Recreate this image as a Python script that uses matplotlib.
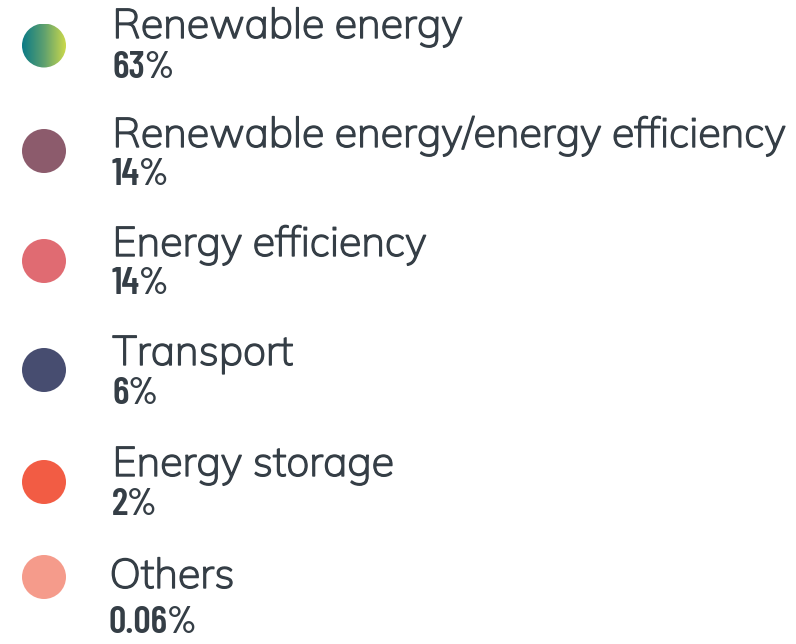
import matplotlib
matplotlib.use("Agg")
import matplotlib.pyplot as plt
import numpy as np
from matplotlib.patches import Circle
from matplotlib.colors import LinearSegmentedColormap
import matplotlib.patheffects as pe

categories = ["Renewable energy", "Renewable energy/energy efficiency",
              "Energy efficiency", "Transport", "Energy storage", "Others"]
shares = ["63%", "14%", "14%", "6%", "2%", "0.06%"]
colors = [None, "#8c5b6c", "#e06b72", "#474d70", "#f25c44", "#f59b8b"]
gradient_colors = ["#0a7a86", "#5ea06f", "#cbd94b"]

W, H = 796, 644
fig = plt.figure(figsize=(W / 100, H / 100), dpi=100)
ax = fig.add_axes([0, 0, 1, 1])
ax.set_xlim(0, W)
ax.set_ylim(H, 0)
ax.axis("off")

circle_y = [45.5, 151, 261, 370, 482, 577]
label_base = [38, 147, 256, 365, 476, 588]
pct_base = [78, 185, 294, 404, 515, 633]
text_x = [112, 112, 112, 112, 112, 109]
cx, r = 44, 22
text_color = "#353e46"

label_fs = 29.8
pct_fs = 27.5
thick = [pe.withStroke(linewidth=1.0, foreground=text_color)]

for i, (cat, sh) in enumerate(zip(categories, shares)):
    cy = circle_y[i]
    if colors[i] is None:
        cmap = LinearSegmentedColormap.from_list("g", gradient_colors)
        grad = np.linspace(0, 1, 256).reshape(1, -1)
        im = ax.imshow(grad, cmap=cmap, extent=[cx - r, cx + r, cy + r, cy - r],
                       aspect="auto", interpolation="bilinear", zorder=2)
        clip = Circle((cx, cy), r, transform=ax.transData, facecolor="none", edgecolor="none")
        ax.add_patch(clip)
        im.set_clip_path(clip)
    else:
        ax.add_patch(Circle((cx, cy), r, facecolor=colors[i], edgecolor="none", zorder=2))
    ax.text(text_x[i] + 0.5, label_base[i], cat, family=["Mulish", "Lato", "DejaVu Sans"],
            fontsize=label_fs, color=text_color, va="baseline", ha="left",
            path_effects=thick)
    ax.text(text_x[i], pct_base[i], sh, family=["Barlow Condensed", "DejaVu Sans"],
            fontweight=600, fontstretch="condensed",
            fontsize=pct_fs, color=text_color, va="baseline", ha="left")

fig.savefig("out.png", dpi=100, facecolor="white")
